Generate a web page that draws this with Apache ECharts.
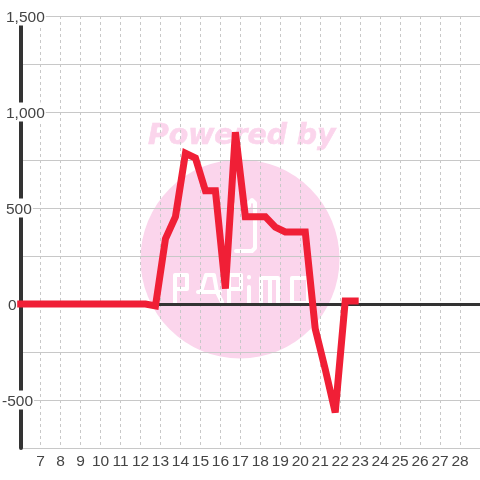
<!DOCTYPE html>
<html>
<head>
<meta charset="utf-8">
<style>
html,body{margin:0;padding:0;background:#fff;}
#chart{width:480px;height:480px;}
</style>
<script src="https://cdn.jsdelivr.net/npm/echarts@6/dist/echarts.min.js"></script>
</head>
<body>
<div id="chart"></div>
<script>
//数据
var days=[6,6.75,7.25,7.75,8.25,8.75,9.25,9.75,10.25,10.75,11.25,11.75,12.25,12.75,13.25,13.75,14.25,14.75,15.25,15.75,16.25,16.75,17.25,17.75,18.25,18.75,19.25,19.75,20.25,20.75,21.25,21.75,22.25,22.75];
var values=[0,0,0,0,0,0,0,0,0,0,0,0,0,-10,340,455,785,760,590,590,80,895,455,455,455,400,375,375,375,-130,-340,-565,15,15];
var xTicks=[7,8,9,10,11,12,13,14,15,16,17,18,19,20,21,22,23,24,25,26,27,28];
var yTicks=[-500,0,500,1000,1500];

var points=[];
for(var i=0;i<days.length;i++){
    points.push([days[i],values[i]]);
}

//千分位
function yLabel(v){
    if(yTicks.indexOf(v)<0) return '';
    var s=String(v).replace(/\B(?=(\d{3})+$)/g,',');
    if(v<0) return '{m|'+s+'}';
    if(v==0) return '{z|'+s+'}';
    return '{n|'+s+'}';
}

//水印的字母笔画
var white={stroke:'#fff',lineWidth:4,fill:null,lineCap:'round',lineJoin:'round'};
function stroke(pts){
    return {type:'polyline',z:-5,silent:true,shape:{points:pts},style:white};
}

var labelFont={color:'#444',fontSize:15.5,fontFamily:'Liberation Sans',lineHeight:16};

var myChart=echarts.init(document.getElementById('chart'));
var option={
    backgroundColor:'#fff',
    animation:false,
    grid:{left:20.7,right:0,top:16,bottom:32,containLabel:false,outerBoundsMode:'none'},
    graphic:[
        {type:'circle',z:-10,silent:true,shape:{cx:240,cy:259,r:99.5},style:{fill:'#fbd5ec'}},
        {type:'text',z:-9,silent:true,x:148,y:122.5,style:{text:'Powered by',fill:'#fbd5ec',stroke:'#fbd5ec',lineWidth:0.6,font:'italic bold 28.3px "DejaVu Sans"'}},
        stroke([[233,206],[233,204]]),
        stroke([[236,251],[252,251],[255,248],[255,203],[252,200],[249,203],[249,206]]),
        stroke([[175,304],[175,275],[187,275],[187,289],[175,289]]),
        stroke([[201,292],[206,275],[214,275],[217,292],[222,302]]),
        stroke([[198,292],[220,292]]),
        stroke([[229,304],[229,275],[241,275],[241,289],[229,289]]),
        stroke([[249,287],[249,304]]),
        stroke([[249,277],[249,277.5]]),
        stroke([[261,304],[261,278],[278,278],[278,304]]),
        stroke([[270,278],[270,304]]),
        stroke([[292,278],[308,278],[308,303],[292,303],[292,278]])
    ],
    xAxis:[
        {
            type:'value',
            min:6,
            max:29,
            interval:1,
            position:'bottom',
            axisLine:{show:false,onZero:false},
            axisTick:{show:false},
            axisLabel:{
                color:'#444',
                fontFamily:'Liberation Sans',
                fontSize:15.5,
                margin:6,
                formatter:function(v){return xTicks.indexOf(v)<0?'':String(v);}
            },
            splitLine:{show:true,showMinLine:false,showMaxLine:false,lineStyle:{color:'#c8c8c8',type:[3,3],width:1}}
        },
        {
            type:'value',
            min:6,
            max:29,
            interval:1,
            axisLine:{show:true,onZero:true,lineStyle:{color:'#333',width:3}},
            axisTick:{show:false},
            axisLabel:{show:false},
            splitLine:{show:false}
        }
    ],
    yAxis:{
        type:'value',
        min:-750,
        max:1500,
        interval:250,
        axisLine:{show:true,onZero:false,lineStyle:{color:'#333',width:4}},
        axisTick:{show:false},
        axisLabel:{
            align:'left',
            margin:18.7,
            color:'#444',
            fontFamily:'Liberation Sans',
            fontSize:15.5,
            backgroundColor:'#fff',
            padding:[3,1,0,0],
            formatter:yLabel,
            rich:{
                n:Object.assign({padding:[0,0,0,4]},labelFont),
                z:Object.assign({padding:[0,0,0,6]},labelFont),
                m:labelFont
            }
        },
        splitLine:{show:true,lineStyle:{color:'#c8c8c8',width:1}}
    },
    series:[
        {
            type:'line',
            data:points,
            symbol:'none',
            clip:false,
            z:5,
            lineStyle:{color:'#f01f36',width:7,cap:'square',join:'miter',miterLimit:3}
        }
    ]
};
myChart.setOption(option);
</script>
</body>
</html>
